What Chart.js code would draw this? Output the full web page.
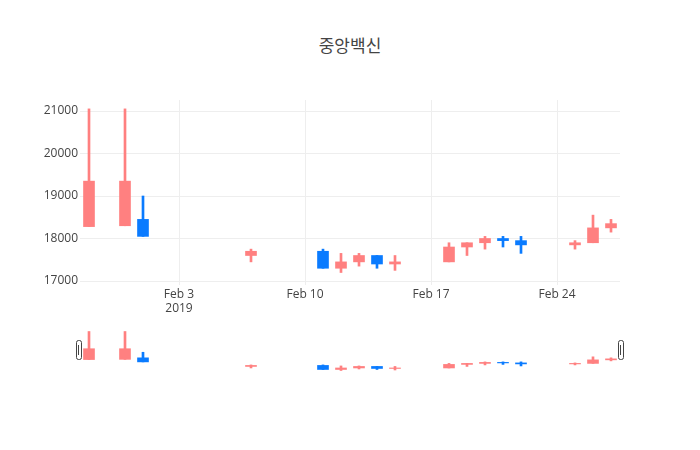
<!DOCTYPE html>
<html><head><meta charset="utf-8">
<script src="https://cdn.jsdelivr.net/npm/chart.js@4"></script>
<style>body{margin:0;width:700px;height:450px;background:#fff;position:relative;font-family:"Open Sans",sans-serif}
#t{position:absolute;top:32px;left:0;width:700px;text-align:center;font-size:17px;color:#444;font-family:"Noto Sans CJK KR","Open Sans"}
canvas{position:absolute;left:0}</style></head><body>
<div id="t">중앙백신</div>
<div style="position:absolute;top:0;left:0;width:700px;height:320px"><canvas id="c1"></canvas></div>
<div style="position:absolute;top:331px;left:0;width:700px;height:40px"><canvas id="c2"></canvas></div>
<script>
// days relative to Feb 3, 2019
const dates = [-5,-3,-2,4,8,9,10,11,12,15,16,17,18,19,22,23,24];
const opens  = [18280,18300,18450,17600,17700,17300,17450,17600,17400,17450,17800,17900,18000,17950,17850,17900,18250];
const closes = [19350,19350,18050,17700,17300,17450,17600,17400,17450,17800,17900,18000,17950,17850,17900,18250,18350];
const highs  = [21050,21050,19000,17750,17750,17650,17650,17600,17600,17900,17900,18050,18050,18050,17950,18550,18450];
const lows   = [18280,18300,18050,17450,17300,17200,17350,17300,17250,17450,17600,17750,17800,17650,17750,17900,18150];
const xTicks = [0,7,14,21];
const xTickLabels = [['Feb 3','2019'],'Feb 10','Feb 17','Feb 24'];
const yTicks = [17000,18000,19000,20000,21000];

const UP='#FF8080', DOWN='#0A7BFF';
const cols = opens.map((o,i)=>closes[i]>=o?UP:DOWN);
function ds(bw,ww){return [
 {data:dates.map((d,i)=>({x:d,y:[lows[i],highs[i]]})),backgroundColor:cols,barThickness:ww,grouped:false,order:2},
 {data:dates.map((d,i)=>({x:d,y:[opens[i],closes[i]]})),backgroundColor:cols,barThickness:bw,grouped:false,order:1}
];}
new Chart(document.getElementById('c1'),{type:'bar',data:{datasets:ds(11,2)},
 options:{responsive:true,maintainAspectRatio:false,animation:false,
  layout:{padding:{top:100,right:80,left:0,bottom:0}},
  plugins:{legend:{display:false},tooltip:{enabled:false}},
  scales:{
   x:{type:'linear',min:-5.5,max:24.5,offset:false,
     afterBuildTicks:a=>{a.ticks=xTicks.map(v=>({value:v}));},
     afterFit:a=>{a.height=35;},
     ticks:{color:'#444',font:{size:12,family:'"Open Sans"'},maxRotation:0,padding:2,callback:(v)=>xTickLabels[xTicks.indexOf(v)]},
     grid:{color:'#eee',drawTicks:false,offset:false},border:{display:false}},
   y:{min:16906,max:21259,
     afterBuildTicks:a=>{a.ticks=yTicks.map(v=>({value:v}));},
     afterFit:a=>{a.width=80;},
     ticks:{color:'#444',font:{size:12,family:'"Open Sans"'},padding:2,callback:v=>String(v)},
     grid:{color:'#eee',drawTicks:false},border:{display:false}}
  }}});
const handles={id:'h',afterDraw(ch){const c=ch.ctx,a=ch.chartArea;
 [a.left-1,a.right+1].forEach(x=>{c.save();c.fillStyle='#fff';c.strokeStyle='#444';c.lineWidth=1;
  c.beginPath();c.roundRect(x-2.5,9.5,5,19,2);c.fill();c.stroke();
  c.beginPath();c.moveTo(x-0.5,14);c.lineTo(x-0.5,24);c.stroke();c.restore();});}};
new Chart(document.getElementById('c2'),{type:'bar',data:{datasets:ds(11,2)},plugins:[handles],
 options:{responsive:true,maintainAspectRatio:false,animation:false,
  layout:{padding:{top:0,right:80,left:80,bottom:0}},
  plugins:{legend:{display:false},tooltip:{enabled:false}},
  scales:{x:{type:'linear',min:-5.5,max:24.5,offset:false,display:false},y:{min:17150,max:21100,display:false}}}});
</script></body></html>
